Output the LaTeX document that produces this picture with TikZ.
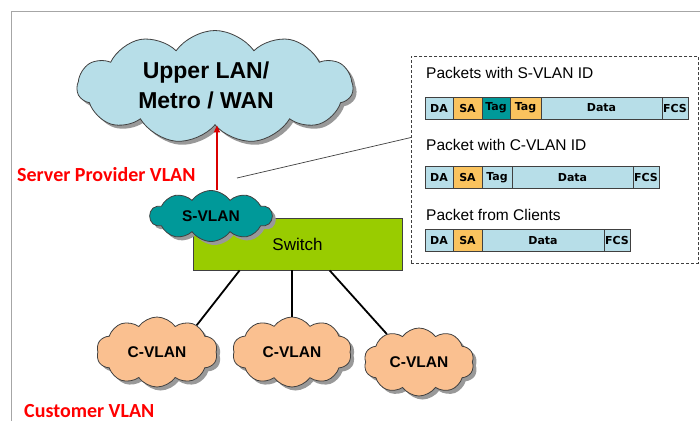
\documentclass[tikz,border=0pt]{standalone}
\usepackage{fontspec}
\setmainfont{Liberation Sans}
\newfontfamily\calib{Carlito}
\newfontfamily\dvs{DejaVu Sans}
\usetikzlibrary{shapes.symbols,shadows,arrows.meta}
\definecolor{lb}{HTML}{B7DEE8}
\definecolor{tl}{HTML}{009999}
\definecolor{og}{HTML}{FAC35E}
\definecolor{pc}{HTML}{FAC090}
\definecolor{gr}{HTML}{99CC00}
\definecolor{fr}{HTML}{A6A6A6}
\definecolor{ol}{HTML}{404040}
\tikzset{
  cloudbox/.style={cloud, cloud ignores aspect, draw=ol, line width=0.8pt, inner sep=0pt,
    drop shadow={shadow xshift=3.5pt, shadow yshift=-3.5pt, fill=black!40, opacity=1}},
  cloudtxt/.style={font=\bfseries\fontsize{15.5}{18}\selectfont},
  field/.style={draw=ol, line width=0.8pt, minimum height=22pt, inner sep=0pt, outer sep=0pt,
    anchor=west, font=\dvs\bfseries\fontsize{11}{13}\selectfont},
  pktlabel/.style={anchor=west, inner sep=0pt, font=\fontsize{15.5}{18}\selectfont},
  redlabel/.style={anchor=west, inner sep=0pt, text=red, font=\calib\bfseries\fontsize{20}{24}\selectfont},
  link/.style={line width=1.8pt, black}
}
\begin{document}
\begin{tikzpicture}[x=1pt,y=-1pt]
\useasboundingbox (0,0) rectangle (700,421);
\fill[white] (0,0) rectangle (700,421);
\draw[fr, line width=1.6pt] (700,11.5) -- (11.5,11.5) -- (11.5,421);

% packet panel
\node[draw=ol, dashed, dash pattern=on 3pt off 2pt, line width=0.7pt, minimum width=287pt, minimum height=207pt, inner sep=0pt, anchor=north west] (panel) at (411,56) {};
\coordinate (pin) at (411,137.5);

\node[pktlabel] (l1) at (426,73) {Packets with S-VLAN ID};
\node[field, fill=lb, minimum width=28pt] (a1) at (425,108) {DA};
\node[field, fill=og, minimum width=29pt] (a2) at (a1.east) {SA};
\node[field, fill=tl, minimum width=28pt] (a3) at (a2.east) {Tag};
\node[field, fill=og, minimum width=31pt] (a4) at (a3.east) {Tag};
\node[field, fill=lb, minimum width=121pt] (a5) at (a4.east) {Data};
\node[field, fill=lb, minimum width=26pt] (a6) at (a5.east) {FCS};

\node[pktlabel] (l2) at (426,145) {Packet with C-VLAN ID};
\node[field, fill=lb, minimum width=28pt] (b1) at (425,177.5) {DA};
\node[field, fill=og, minimum width=29pt] (b2) at (b1.east) {SA};
\node[field, fill=lb, minimum width=30pt] (b3) at (b2.east) {Tag};
\node[field, fill=lb, minimum width=121pt] (b4) at (b3.east) {Data};
\node[field, fill=lb, minimum width=26pt] (b5) at (b4.east) {FCS};

\node[pktlabel] (l3) at (426,215) {Packet from Clients};
\node[field, fill=lb, minimum width=28pt] (c1f) at (425,240.5) {DA};
\node[field, fill=og, minimum width=29pt] (c2f) at (c1f.east) {SA};
\node[field, fill=lb, minimum width=122pt] (c3f) at (c2f.east) {Data};
\node[field, fill=lb, minimum width=26pt] (c4f) at (c3f.east) {FCS};

% switch
\node[draw=ol, line width=0.8pt, fill=gr, minimum width=209pt, minimum height=52pt, inner sep=0pt,
  font=\fontsize{17}{20}\selectfont] (sw) at (297.5,244) {Switch};
\coordinate (swl) at ([xshift=47pt]sw.south west);
\coordinate (swm) at ([xshift=99pt]sw.south west);
\coordinate (swr) at ([xshift=137pt]sw.south west);

% upper cloud
\node[cloudbox, fill=lb, cloud puffs=11, cloud puff arc=110, minimum width=276pt, minimum height=113pt] (upper) at (215,87) {};
\node[align=center, inner sep=0pt, font=\bfseries\fontsize{23}{30}\selectfont] (uppertxt) at ([xshift=-9pt,yshift=2pt]upper.center) {Upper LAN/\\Metro / WAN};

% customer clouds
\node[cloudbox, fill=pc, cloud puffs=10, cloud puff arc=110, minimum width=121pt, minimum height=70pt, cloudtxt] (cv1) at (157,352) {C-VLAN};
\node[cloudbox, fill=pc, cloud puffs=10, cloud puff arc=110, minimum width=119pt, minimum height=70pt, cloudtxt] (cv2) at (292,352) {C-VLAN};
\node[cloudbox, fill=pc, cloud puffs=10, cloud puff arc=110, minimum width=110pt, minimum height=68pt, cloudtxt] (cv3) at (419,362) {C-VLAN};

% S-VLAN cloud
\node[cloudbox, fill=tl, cloud puffs=10, cloud puff arc=110, minimum width=122pt, minimum height=51pt, cloudtxt] (svlan) at (211,216) {S-VLAN};

% connectors
\draw[link] (swl) -- (cv1.34);
\draw[link] (swm) -- (swm |- cv2.north);
\draw[link] (swr) -- (cv3.139);
\draw[line width=2pt, red!85!black, -{Triangle[length=7pt,width=6pt]}] ([xshift=6pt]svlan.north) -- ([xshift=6pt]svlan.north |- upper.south);
\coordinate (pout) at (237,178);
\draw[line width=0.7pt, ol] (pout) -- (pin);

% labels
\node[redlabel] (spv) at (17,175) {Server Provider VLAN};
\node[redlabel] (cust) at (24,411) {Customer VLAN};
\end{tikzpicture}
\end{document}
